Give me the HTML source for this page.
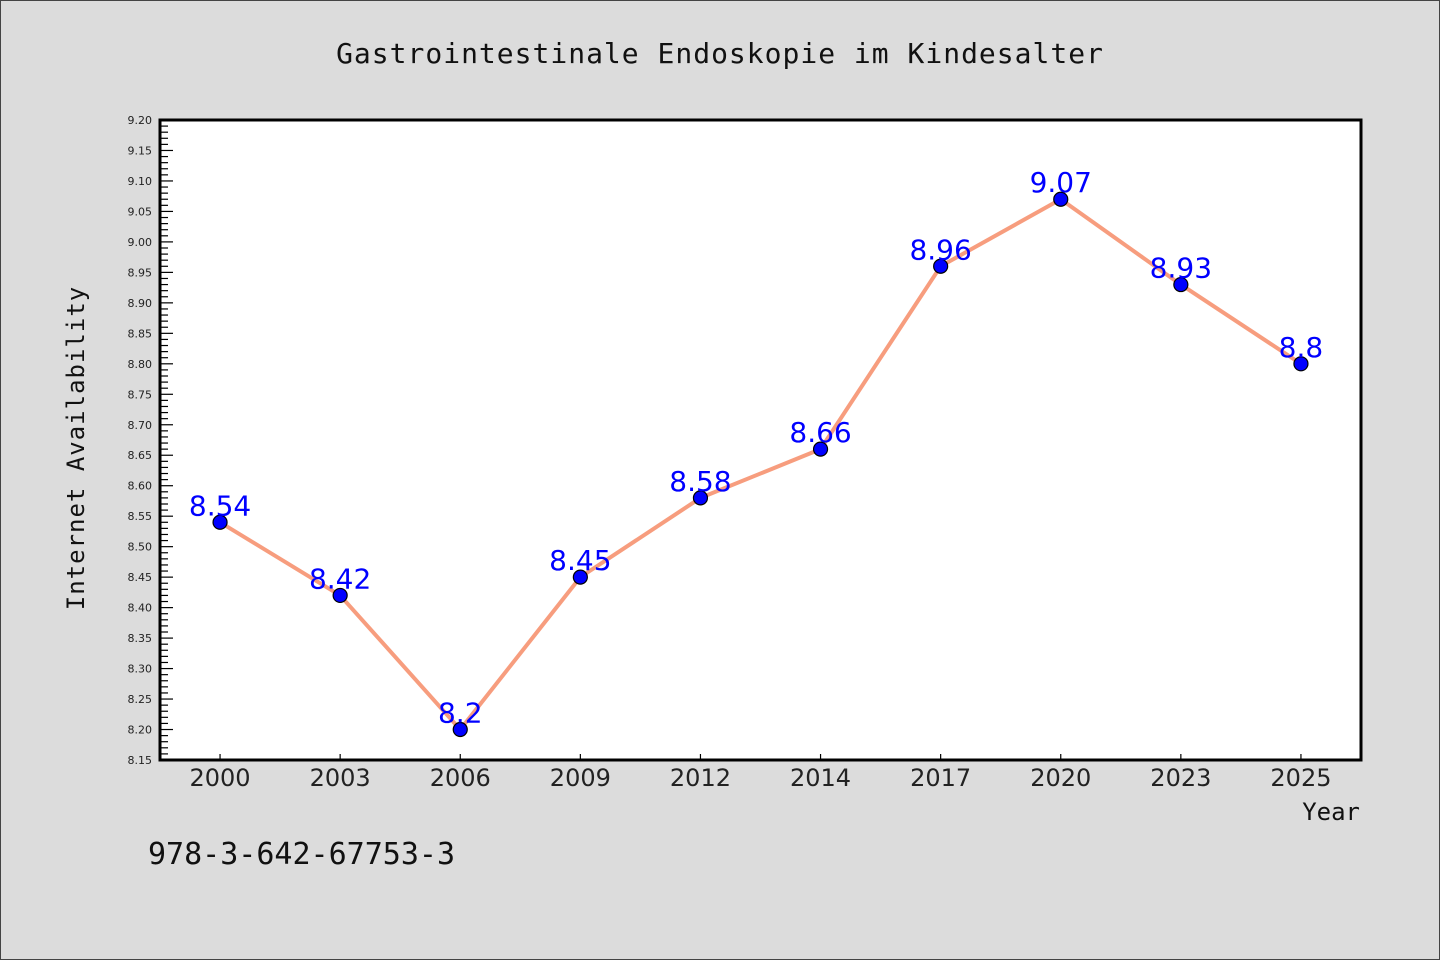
<!DOCTYPE html>
<html><head><meta charset="utf-8"><style>
html,body{margin:0;padding:0;background:#dcdcdc}
svg{display:block}
</style></head><body>
<svg id="chart" width="1440" height="960" xmlns="http://www.w3.org/2000/svg" font-family="'WenQuanYi Zen Hei Mono','WenQuanYi Zen Hei','DejaVu Sans Mono',monospace">
<rect x="0.5" y="0.5" width="1439" height="959" fill="#dcdcdc" stroke="#444" stroke-width="1"/>
<text x="720" y="63" text-anchor="middle" font-size="28" fill="#111" letter-spacing="1">Gastrointestinale Endoskopie im Kindesalter</text>
<rect x="160" y="120" width="1201" height="640" fill="#fff"/>
<g id="grid"></g>
<g id="marks"></g>
<rect x="160" y="120" width="1201" height="640" fill="none" stroke="#000" stroke-width="3"/>
<text transform="translate(84,448) rotate(-90)" text-anchor="middle" font-size="24" fill="#111" letter-spacing="1">Internet Availability</text>
<text x="1360" y="820" text-anchor="end" font-size="24" fill="#111">Year</text>
<text x="148" y="864" font-size="30" fill="#111">978-3-642-67753-3</text>
</svg>
<script>
const categories = ["2000","2003","2006","2009","2012","2014","2017","2020","2023","2025"];
const values = [8.54,8.42,8.2,8.45,8.58,8.66,8.96,9.07,8.93,8.8];
const yTicks = ["8.15","8.20","8.25","8.30","8.35","8.40","8.45","8.50","8.55","8.60","8.65","8.70","8.75","8.80","8.85","8.90","8.95","9.00","9.05","9.10","9.15","9.20"];
const NS="http://www.w3.org/2000/svg";
const L=160,R=1361,T=120,B=760,ymin=8.15,ymax=9.20;
const y=v=>B-(v-ymin)/(ymax-ymin)*(B-T);
const step=(R-L)/categories.length;
const x=i=>L+step*(i+0.5);
function mk(tag,attrs,parent){const e=document.createElementNS(NS,tag);for(const k in attrs)e.setAttribute(k,attrs[k]);parent.appendChild(e);return e;}
const grid=document.getElementById('grid'), marks=document.getElementById('marks');
// minor ticks
for(let k=0;k<=(ymax-ymin)/0.01+0.001;k++){
  const v=ymin+k*0.01, yy=y(v), major=k%5===0;
  const t=mk('line',{x1:L,x2:L+(major?13:8),y1:yy,y2:yy,stroke:'#000','stroke-width':1.2},grid);
  
  
}
yTicks.forEach(s=>{
  const t=mk('text',{x:L-8,y:y(parseFloat(s))+4,'text-anchor':'end','font-size':11,'font-family':'DejaVu Sans, sans-serif',fill:'#222'},grid);
  t.textContent=s;
  
  
});
categories.forEach((c,i)=>{
  const tk=mk('line',{x1:x(i),x2:x(i),y1:B,y2:B-6,stroke:'#000','stroke-width':1.2},grid);
  
  
  const t=mk('text',{x:x(i),y:B+26,'text-anchor':'middle','font-size':24,'font-family':'DejaVu Sans, sans-serif',fill:'#222'},grid);
  t.textContent=c;
  
  
});
const pl=mk('polyline',{points:values.map((v,i)=>x(i)+','+y(v)).join(' '),fill:'none',stroke:'#f79d7e','stroke-width':4,'stroke-linejoin':'round'},marks);


values.forEach((v,i)=>{
  const c=mk('circle',{cx:x(i),cy:y(v),r:7,fill:'#0000ff',stroke:'#000','stroke-width':1.2},marks);
  
  
  const t=mk('text',{x:x(i),y:y(v)-7,'text-anchor':'middle','font-size':28,fill:'#0000ff','font-family':'DejaVu Sans, sans-serif'},marks);
  t.textContent=String(v);
  
  
});
</script>
</body></html>
